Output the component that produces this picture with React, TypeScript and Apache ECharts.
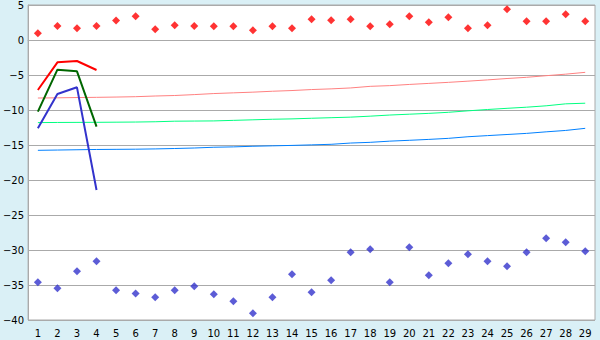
import React, { useEffect, useRef } from "react";
import * as echarts from "echarts";

const categories = Array.from({ length: 29 }, (_, i) => String(i + 1));

const redPoints = [0.95, 2.0, 1.67, 2.0, 2.8, 3.38, 1.52, 2.1, 2.0, 1.95, 1.95, 1.38, 1.95, 1.67, 2.95, 2.81, 2.95, 1.95, 2.24, 3.38, 2.52, 3.24, 1.67, 2.1, 4.38, 2.67, 2.67, 3.67, 2.67];
const bluePoints = [-34.6, -35.47, -33.05, -31.6, -35.76, -36.2, -36.76, -35.76, -35.19, -36.33, -37.33, -39.05, -36.76, -33.47, -36.05, -34.33, -30.33, -29.9, -34.6, -29.62, -33.62, -31.9, -30.62, -31.62, -32.33, -30.33, -28.33, -28.9, -30.19];

const redLine = [-7.14, -3.19, -3.0, -4.29];
const greenLine = [-10.24, -4.24, -4.48, -12.38];
const blueLine = [-12.62, -7.71, -6.76, -21.43];

const pinkTrend = [-8.29, -8.26, -8.22, -8.19, -8.15, -8.1, -8.0, -7.93, -7.8, -7.65, -7.55, -7.45, -7.32, -7.22, -7.08, -6.98, -6.85, -6.62, -6.52, -6.35, -6.2, -6.05, -5.88, -5.7, -5.5, -5.33, -5.1, -4.88, -4.62];
const greenTrend = [-11.8, -11.78, -11.77, -11.76, -11.74, -11.72, -11.68, -11.6, -11.58, -11.56, -11.48, -11.4, -11.32, -11.27, -11.18, -11.1, -11.02, -10.88, -10.72, -10.6, -10.48, -10.33, -10.12, -9.93, -9.76, -9.6, -9.4, -9.12, -9.03];
const blueTrend = [-15.76, -15.72, -15.68, -15.64, -15.62, -15.6, -15.56, -15.5, -15.43, -15.32, -15.27, -15.18, -15.12, -15.06, -14.98, -14.9, -14.72, -14.62, -14.45, -14.33, -14.2, -14.05, -13.82, -13.66, -13.5, -13.34, -13.12, -12.92, -12.62];

const yTickMin = -40;
const yTickMax = 5;
const yTickStep = 5;

export default function App() {
  const ref = useRef<HTMLDivElement>(null);
  useEffect(() => {
    document.body.style.margin = "0";
    const chart = echarts.init(ref.current!, null, { renderer: "svg" });
    const font = "DejaVu Sans";
    const thin = (data: number[], color: string) => ({
      type: "line",
      data,
      showSymbol: false,
      symbol: "none",
      lineStyle: { color, width: 1 },
      z: 2,
    });
    const thick = (data: number[], color: string) => ({
      type: "line",
      data,
      showSymbol: false,
      symbol: "none",
      lineStyle: { color, width: 2 },
      z: 3,
    });
    const dots = (data: number[], color: string) => ({
      type: "scatter",
      data,
      symbol: "diamond",
      symbolSize: 8,
      itemStyle: { color },
      z: 4,
    });
    chart.setOption({
      animation: false,
      backgroundColor: "#daf0f6",
      textStyle: { fontFamily: font },
      grid: {
        left: 26,
        right: 5,
        top: 5,
        bottom: 20,
        show: true,
        backgroundColor: "#ffffff",
        borderColor: "#aaaaaa",
        borderWidth: 1,
      },
      xAxis: {
        type: "category",
        data: categories,
        boundaryGap: true,
        axisLine: { lineStyle: { color: "#aaaaaa", width: 1 } },
        axisTick: { alignWithLabel: true, length: 6, lineStyle: { color: "#444444" } },
        axisLabel: { color: "#000", fontSize: 10, fontFamily: font, margin: 8, interval: 0 },
        splitLine: { show: false },
      },
      yAxis: {
        type: "value",
        min: yTickMin,
        max: yTickMax,
        interval: yTickStep,
        axisLine: { show: true, lineStyle: { color: "#aaaaaa", width: 1 } },
        axisTick: { show: false },
        axisLabel: {
          color: "#000",
          fontSize: 10,
          fontFamily: font,
          margin: 4,
          formatter: (v: number) => (v < 0 ? "\u2212" + Math.abs(v) : String(v)),
        },
        splitLine: { show: true, lineStyle: { color: "#aaaaaa", width: 1 } },
      },
      series: [
        thin(pinkTrend, "#ff8080"),
        thin(greenTrend, "#00ff80"),
        thin(blueTrend, "#0080ff"),
        thick(redLine, "#ff0000"),
        thick(greenLine, "#006600"),
        thick(blueLine, "#3333cc"),
        dots(redPoints, "#ff0000"),
        dots(bluePoints, "#3333cc"),
      ],
    });
    return () => chart.dispose();
  }, []);
  return (
    <div
      ref={ref}
      style={{ position: "absolute", left: 0, top: 0, width: 600, height: 340 }}
    />
  );
}
